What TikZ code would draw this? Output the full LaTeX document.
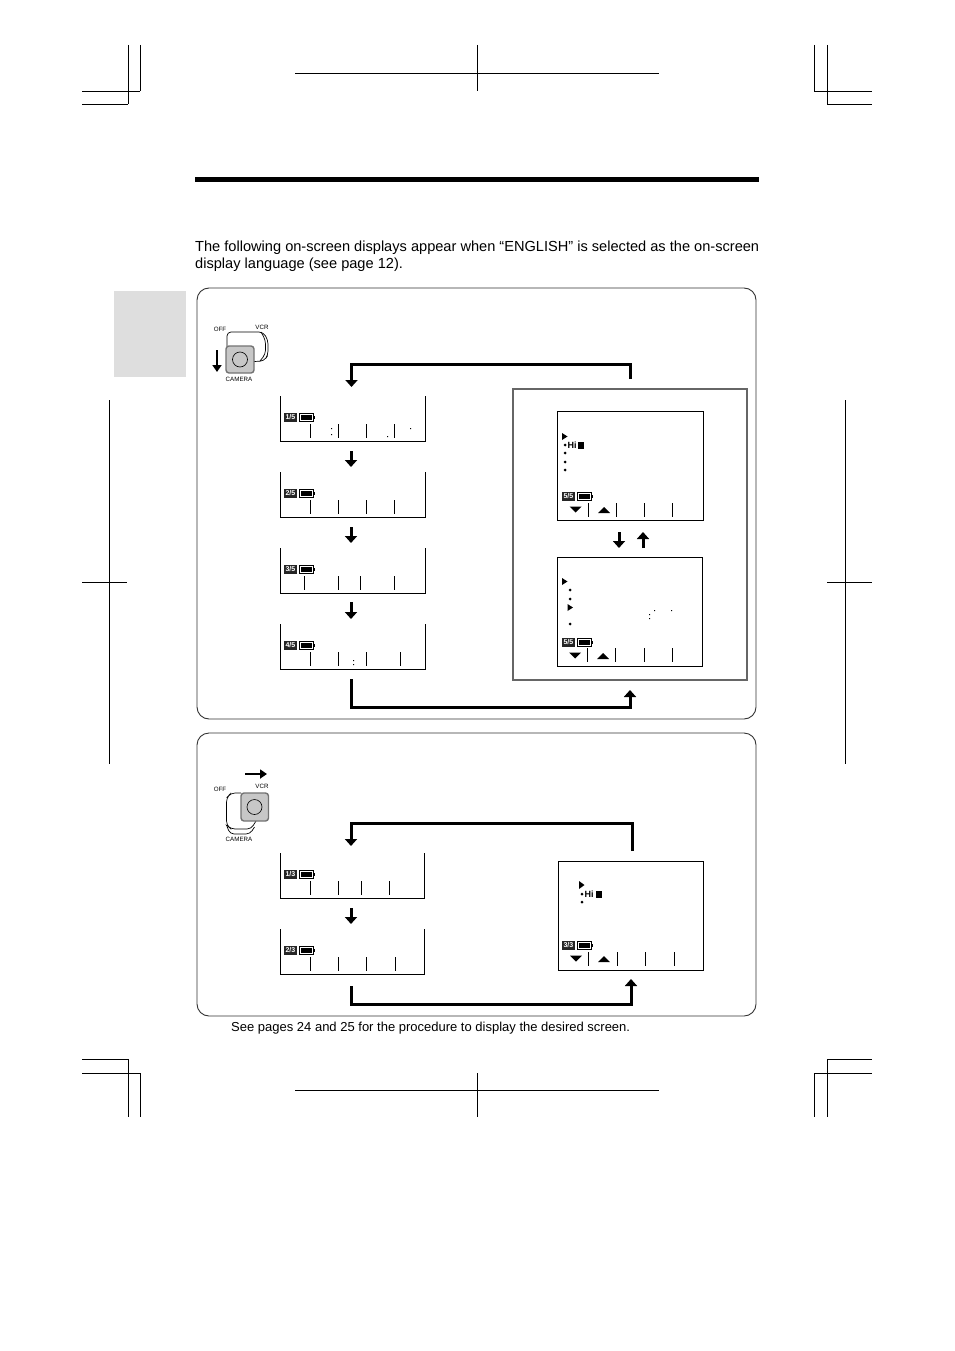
\documentclass[tikz,border=0pt]{standalone}
\usepackage{fontspec}
\setmainfont{Liberation Sans}
\usetikzlibrary{arrows.meta}
\tikzset{
 x=1pt,y=-1pt,
 crop/.style={line width=0.8pt,black},
 screenline/.style={line width=1pt,black},
 tick/.style={line width=1pt,black},
 flow/.style={line width=3pt,black,-{Triangle[width=12pt,length=7pt]}},
 small/.style={line width=3pt,black,-{Triangle[width=12pt,length=7pt]}},
 switcharrow/.style={line width=2.4pt,black,-{Triangle[width=9pt,length=7pt]}},
 panel/.style={draw=black!80,line width=0.9pt,rounded corners=12pt},
 tiny/.style={font=\fontsize{6.2}{6.5}\selectfont,inner sep=0pt},
 body/.style={font=\fontsize{14.6}{17.6}\selectfont,inner sep=0pt,anchor=north west,align=left},
 note/.style={font=\fontsize{13}{15}\selectfont,inner sep=0pt,anchor=west},
 pagebadge/.style={fill=black!85,text=white,font=\bfseries\fontsize{7}{7}\selectfont,inner sep=0pt,minimum width=12.5pt,minimum height=8.5pt,text width=12.5pt,align=center},
 dotm/.style={circle,fill=black,inner sep=0pt,minimum size=3pt},
 hitext/.style={font=\bfseries\fontsize{9}{9}\selectfont,inner sep=0pt,anchor=west},
 switchline/.style={line width=0.7pt,rounded corners=4pt},
 switchbutton/.style={line width=1.4pt,draw=black!55,fill=black!22,rounded corners=3pt},
}
\newcommand{\openscreen}[4]{\draw[screenline] (#1,#3)--(#1,#4)--(#2,#4)--(#2,#3);}
\newcommand{\batt}[2]{\draw[line width=1pt,fill=white] (#1,#2-0.5) rectangle ++(14.5,8);\fill (#1+1.5,#2+1) rectangle ++(11.5,5);\fill (#1+14.5,#2+2) rectangle ++(1.5,3);}
\newcommand{\badge}[3]{\node[pagebadge,anchor=north west] at (#1,#2) {#3};}
\newcommand{\ticks}[6]{\foreach \t in {#3,#4,#5,#6} \draw[tick] (\t,#1)--(\t,#2);}
\newcommand{\dn}[2]{\fill (#1-6,#2-3)--(#1+6,#2-3)--(#1,#2+3)--cycle;}
\newcommand{\up}[2]{\fill (#1-6,#2+3)--(#1+6,#2+3)--(#1,#2-3)--cycle;}
\begin{document}
\begin{tikzpicture}
\useasboundingbox (0,0) rectangle (954,1351);
\fill[white] (0,0) rectangle (954,1351);
% crop marks
\draw[crop] (128,45)--(128,104) (140,45)--(140,91) (82,91)--(140,91) (82,104)--(128,104);
\draw[crop] (814,45)--(814,91) (827,45)--(827,104) (814,91)--(872,91) (827,104)--(872,104);
\draw[crop] (295,73)--(659,73) (477,45)--(477,91);
\draw[crop] (128,1059)--(128,1117) (140,1073)--(140,1117) (82,1059)--(128,1059) (82,1073)--(140,1073);
\draw[crop] (827,1059)--(827,1117) (814,1073)--(814,1117) (827,1059)--(872,1059) (814,1073)--(872,1073);
\draw[crop] (295,1090)--(659,1090) (477,1073)--(477,1117);
\draw[crop] (109,400)--(109,764) (82,582)--(127,582);
\draw[crop] (845,400)--(845,764) (827,582)--(872,582);
% header
\fill (195,177) rectangle (759,182);
\fill[black!13] (114,291) rectangle (186,377);
\node[body] (intro) at (195,240.5) {The following on-screen displays appear when “ENGLISH” is selected as the on-screen\\display language (see page 12).};
\node[note] (foot) at (231,1028) {See pages 24 and 25 for the procedure to display the desired screen.};
% panels
\draw[panel] (197,288) rectangle (756,719);
\draw[panel] (197,733) rectangle (756,1016);
% grey frame
\draw[line width=1.3pt,black!60] (513,389) rectangle (747,680);
% camera switch 1
\draw[switchline] (227,346)--(227,332)--(263,332)--(268,340)--(268,355)--(264,361)--(254,361.5);
\draw[switchline] (261,332)--(265.5,340)--(265.5,354)--(260,361);
\draw[switchbutton] (226,346) rectangle (254,373);
\draw[line width=0.6pt] (240,359.5) circle (7.5);
\node[tiny] (off1) at (220,329) {OFF};
\node[tiny] (vcr1) at (262,327) {VCR};
\node[tiny] (cam1) at (239,379) {CAMERA};
\draw[switcharrow] (217,350)--(217,372);
% camera switch 2
\draw[switchline] (241,793)--(231,793)--(226.5,798)--(226.5,825)--(231,829)--(251,829)--(256,821);
\draw[switchline] (226.5,825)--(230,834)--(250,834)--(254.5,827);
\draw[switchbutton] (241,793) rectangle (268.5,821);
\draw[line width=0.6pt] (254.5,807) circle (7.5);
\node[tiny] (off2) at (220,789) {OFF};
\node[tiny] (vcr2) at (262,786) {VCR};
\node[tiny] (cam2) at (239,839) {CAMERA};
\draw[switcharrow] (245,774)--(267,774);
% left screens part 1
\openscreen{280}{425}{396}{441}
\badge{284}{413}{1/5}\batt{299}{414}\ticks{424}{438}{310}{338}{366}{394}
\fill (331,428) rectangle (332,429) (331,434) rectangle (332,435) (387,436) rectangle (388,437) (410,428) rectangle (411,429);
\openscreen{280}{425}{472}{517}
\badge{284}{489}{2/5}\batt{299}{490}\ticks{500}{514}{310}{338}{366}{394}
\openscreen{280}{425}{548}{593}
\badge{284}{565}{3/5}\batt{299}{566}\ticks{576}{590}{304}{338}{360}{394}
\openscreen{280}{425}{624}{669}
\badge{284}{641}{4/5}\batt{299}{642}\ticks{652}{666}{310}{338}{366}{400}
\fill (353,660) rectangle (354,661) (353,664) rectangle (354,665);
\draw[small] (351,451)--(351,467);
\draw[small] (351,527)--(351,543);
\draw[small] (351,602)--(351,619);
% right screen top
\draw[screenline] (557.5,411.5) rectangle (703.5,520.5);
\fill (562,433)--(567.5,436.5)--(562,440)--cycle;
\node[dotm] (d1) at (565,445) {};
\node[hitext] (hi1) at (567.5,445) {Hi};
\fill (578,441.5) rectangle (584,448.5);
\node[dotm] (d2) at (565,453) {};
\node[dotm] (d3) at (565,462) {};
\node[dotm] (d4) at (565,470) {};
\badge{562}{492}{5/5}\batt{577}{493}\ticks{503}{517}{588}{616}{644}{672}
\dn{575.5}{509.5}\up{604}{510}
% right screen lower
\draw[screenline] (557.5,557.5) rectangle (702.5,666.5);
\fill (562,578)--(567.5,581.5)--(562,585)--cycle;
\node[dotm] (e1) at (570,590) {};
\node[dotm] (e2) at (570,599) {};
\fill (567.5,604)--(573,607.5)--(567.5,611)--cycle;
\node[dotm] (e3) at (570,624) {};
\fill (654,610) rectangle (655,611) (671,610) rectangle (672,611) (649,614) rectangle (650,615) (649,618) rectangle (650,619);
\badge{562}{638}{5/5}\batt{577}{639}\ticks{648}{662}{587}{615}{644}{672}
\dn{575}{655.5}\up{603}{656}
\draw[small] (619,532)--(619,548);
\draw[small] (643,548)--(643,532);
% feedback
\draw[flow] (630,379)--(630,364.5)--(351.5,364.5)--(351.5,387);
\draw[flow] (351,679)--(351,707)--(630,707)--(630,690);
% part 2 screens
\openscreen{280}{424}{853}{898}
\badge{284}{870}{1/3}\batt{299}{871}\ticks{881}{895}{310}{338}{361}{389}
\openscreen{280}{424}{929}{974}
\badge{284}{946}{2/3}\batt{299}{947}\ticks{957}{971}{310}{338}{366}{395}
\draw[small] (351,908)--(351,924);
\draw[screenline] (558.5,861.5) rectangle (703.5,970.5);
\fill (579,881)--(584.5,885)--(579,889)--cycle;
\node[dotm] (f1) at (582,894) {};
\node[hitext] (hi2) at (584.5,894) {Hi};
\fill (596,890.5) rectangle (602,897.5);
\node[dotm] (f2) at (582,902) {};
\badge{562}{941}{3/3}\batt{577}{942}\ticks{952}{966}{588}{617}{645}{674}
\dn{576}{958.5}\up{604}{959}
\draw[flow] (632,851)--(632,823)--(351,823)--(351,846);
\draw[flow] (351,986)--(351,1004)--(631,1004)--(631,979);
\end{tikzpicture}
\end{document}
